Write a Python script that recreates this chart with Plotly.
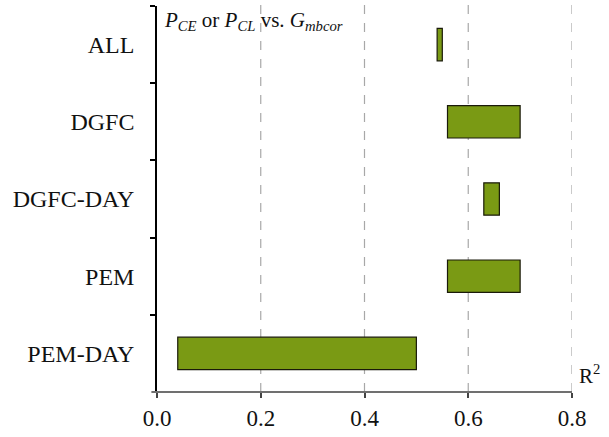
import plotly.graph_objects as go

categories = ["ALL", "DGFC", "DGFC-DAY", "PEM", "PEM-DAY"]
r2_low = [0.54, 0.56, 0.63, 0.56, 0.04]
r2_high = [0.55, 0.70, 0.66, 0.70, 0.50]
x_ticks = [0.0, 0.2, 0.4, 0.6, 0.8]
x_tick_labels = ["0.0", "0.2", "0.4", "0.6", "0.8"]

SERIF = "Liberation Serif"

fig = go.Figure()
fig.add_trace(go.Bar(
    y=categories,
    x=[h - l for l, h in zip(r2_low, r2_high)],
    base=r2_low,
    orientation="h",
    width=0.42,
    marker=dict(color="#7a9a14", line=dict(color="#1a1a0a", width=1.2)),
    showlegend=False,
))

shapes = []
for v in x_ticks[1:]:
    shapes.append(dict(type="line", xref="x", yref="paper", x0=v, x1=v, y0=0, y1=1.016,
                       line=dict(color="#a8a8a8", width=1.2, dash="dash"), layer="below"))
# extended x-axis baseline
shapes.append(dict(type="line", xref="paper", yref="paper", x0=-0.0135, x1=1.0, y0=0, y1=0,
                   line=dict(color="#707070", width=2)))

fig.update_layout(
    width=609, height=437,
    margin=dict(l=157, r=37, t=6, b=41),
    plot_bgcolor="white", paper_bgcolor="white",
    shapes=shapes,
    xaxis=dict(range=[0, 0.8], tickvals=x_ticks, ticktext=x_tick_labels,
               showgrid=False, zeroline=False, showline=False,
               ticks="outside", ticklen=5, tickcolor="#444", tickwidth=1.5,
               tickfont=dict(family=SERIF, size=23, color="#111")),
    yaxis=dict(categoryorder="array", categoryarray=categories, range=[4.5, -0.5],
               showgrid=False, zeroline=False, showline=True, linecolor="black", linewidth=1.5,
               ticks="outside", tickson="boundaries", ticklen=5, tickcolor="black", tickwidth=1.5,
               ticklabelstandoff=16,
               tickfont=dict(family=SERIF, size=24, color="#111")),
    annotations=[
        dict(xref="paper", yref="paper", x=0.012, y=1.0, xanchor="left", yanchor="top",
             text="<i>P</i><sub><i>CE</i></sub> or <i>P</i><sub><i>CL</i></sub> vs. <i>G</i><sub><i>mbcor</i></sub>",
             showarrow=False, font=dict(family=SERIF, size=21, color="#111")),
        dict(xref="paper", yref="paper", x=1.012, y=0.005, xanchor="left", yanchor="bottom",
             text="R<sup>2</sup>", showarrow=False,
             font=dict(family=SERIF, size=21, color="#111")),
    ],
)

fig.write_html("out.html")
